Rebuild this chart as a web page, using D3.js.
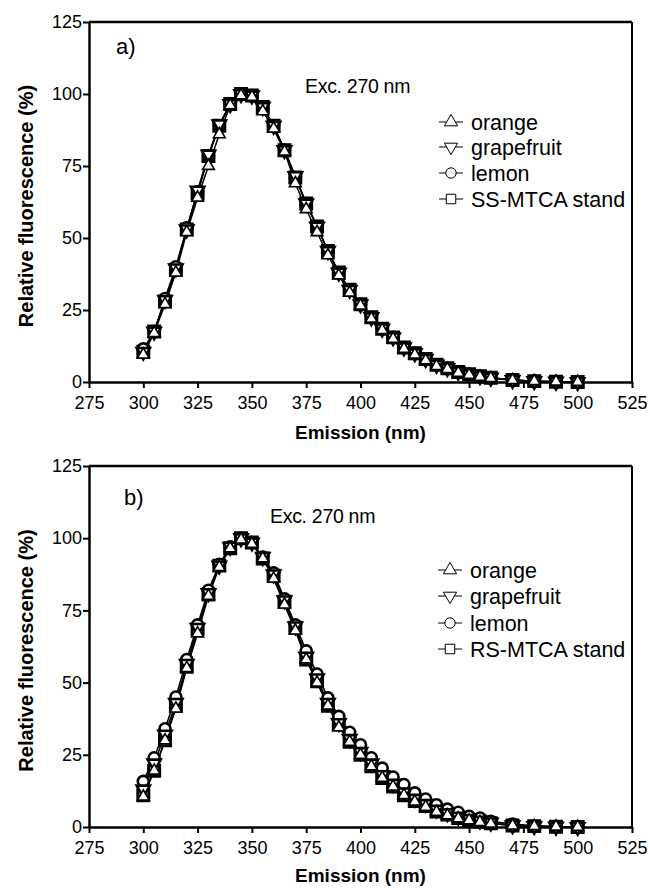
<!DOCTYPE html>
<html><head><meta charset="utf-8">
<script src="https://cdn.jsdelivr.net/npm/d3@7"></script>
<style>body{margin:0;background:#fff}svg{display:block}text{font-family:"Liberation Sans",Arial,sans-serif;fill:#000}</style>
</head><body>
<script>
const emission = [300,305,310,315,320,325,330,335,340,345,350,355,360,365,370,375,380,385,390,395,400,405,410,415,420,425,430,435,440,445,450,455,460,470,480,490,500];
const xTicks = [275,300,325,350,375,400,425,450,475,500,525];
const yTicks = [0,25,50,75,100,125];

const aOrange = [9.5,17,27,38,52,64,75,86,96,99.5,99,94,88,80,69,60,52,44,37,31,26.5,22,18,15,11.5,9.5,7.5,5.5,4.5,3.2,2.5,1.8,1.3,0.6,0.3,0.1,0];
const aGrapefruit = [10.5,17.5,28.5,39.5,53,66.5,79,89.5,96.5,100,99.5,95.5,89,80.5,71.5,62,54,45.5,38,32,27,22.5,18.5,15.5,12,10,8,6,4.8,3.5,2.7,2,1.5,0.7,0.3,0.1,0];
const aLemon = [11.5,17.5,29,40,53.5,66,78.5,89,96.5,100,99.5,95,89,80.5,71,62,54,45.5,38,32,27,22.5,18.5,15.5,12,10,8,6,4.8,3.5,2.7,2,1.5,0.7,0.3,0.1,0];
const aStandard = [10.5,17.5,28,39,53,65.5,78.5,89,96.5,100,99.5,95.5,89,80.5,71,62,54,45.5,38,32,27,22.5,18.5,15.5,12,10,8,6,4.8,3.5,2.7,2,1.5,0.7,0.3,0.1,0];

const bOrange = [10.5,19.5,30,41,55,67,80,90,96.5,99.5,98,93,86,77,68,58,50,42,34.5,29.5,25,21,17,14,11,8.8,7,5.2,4,3,2.3,1.7,1.2,0.5,0.3,0.1,0];
const bGrapefruit = [13,22,32,43,56.5,69,81,90.5,97,100,98.5,93.5,87.5,78.5,69.5,59,51.5,43,36,30.5,26,22,18,15,12,9.8,8,6,4.8,3.6,2.8,2.2,1.5,0.6,0.3,0.1,0];
const bLemon = [15.8,24,34,45,58,70,82,91,97,100,98.5,93.5,88,79,70,61,53,44.7,38.3,32.8,28.5,24,20.4,17.3,14.7,11.8,9.7,7.7,6.2,5.1,3.7,3.1,2,1,0.4,0.1,0];
const bStandard = [11,19.5,30,42,55.5,68.5,80.5,90.5,96.5,100,98.5,93,87,78,69,58,50.5,42,35.5,29.5,25,21,17,14,11,9,7.3,5.4,4.3,3.1,2.4,1.9,1.3,0.5,0.3,0.1,0];

const W = 650, H = 888;
const svg = d3.select("body").append("svg").attr("width", W).attr("height", H);

const symTypes = {
  orange: {type: d3.symbolTriangle, size: 60, rot: 0, sw: 1.6},
  grapefruit: {type: d3.symbolTriangle, size: 75, rot: 180, sw: 2.6},
  lemon: {type: d3.symbolCircle, size: 95, rot: 0, sw: 2.6},
  standard: {type: d3.symbolSquare, size: 120, rot: 0, sw: 3}
};

function drawPanel(cfg) {
  const x = d3.scaleLinear().domain([275, 525]).range([89, 632]);
  const y = d3.scaleLinear().domain([0, 125]).range([cfg.bottom, cfg.top]);
  const g = svg.append("g");

  g.append("line").attr("x1", x(275)).attr("x2", x(525)).attr("y1", y(125)).attr("y2", y(125))
    .attr("stroke", "#000").attr("stroke-width", 2.5);
  g.append("line").attr("x1", x(525)).attr("x2", x(525)).attr("y1", y(125)).attr("y2", y(0))
    .attr("stroke", "#000").attr("stroke-width", 2);

  const xAxis = g.append("g").attr("transform", `translate(0,${y(0)})`)
    .call(d3.axisBottom(x).tickValues(xTicks).tickSize(6).tickPadding(8).tickSizeOuter(0));
  const yAxis = g.append("g").attr("transform", `translate(${x(275)},0)`)
    .call(d3.axisLeft(y).tickValues(yTicks).tickSize(6).tickPadding(1).tickSizeOuter(0));
  [xAxis, yAxis].forEach(a => {
    a.select(".domain").attr("stroke", "#000").attr("stroke-width", 2.5);
    a.selectAll(".tick line").attr("stroke", "#000").attr("stroke-width", 2);
    a.selectAll(".tick text").attr("font-size", 18).attr("font-family", "Liberation Sans, Arial, sans-serif").attr("fill", "#000");
  });

  g.append("text").attr("x", (x(275) + x(525)) / 2).attr("y", cfg.xTitleY)
    .attr("text-anchor", "middle").attr("font-size", 19).attr("font-weight", "bold").text("Emission (nm)");
  g.append("text").attr("transform", `translate(33,${(y(0) + y(125)) / 2 + 4}) rotate(-90)`)
    .attr("text-anchor", "middle").attr("font-size", 20).attr("font-weight", "bold").text("Relative fluorescence (%)");

  g.append("text").attr("x", cfg.labelX).attr("y", cfg.labelY).attr("font-size", 22).text(cfg.label);
  g.append("text").attr("x", cfg.excX).attr("y", cfg.excY).attr("font-size", 19.5).attr("letter-spacing", -0.3).text("Exc. 270 nm");

  const line = d3.line().x((d, i) => x(emission[i])).y(d => y(d));
  const order = ["standard", "lemon", "grapefruit", "orange"];
  order.forEach(k => {
    g.append("path").datum(cfg.data[k]).attr("d", line).attr("fill", "none").attr("stroke", "#000").attr("stroke-width", 1.5);
  });
  order.forEach(k => {
    const s = symTypes[k];
    g.append("g").selectAll("path").data(cfg.data[k]).join("path")
      .attr("d", d3.symbol().type(s.type).size(s.size))
      .attr("transform", (d, i) => `translate(${x(emission[i])},${y(d)}) rotate(${s.rot})`)
      .attr("fill", "#fff").attr("stroke", "#000").attr("stroke-width", s.sw);
  });

  const legNames = ["orange", "grapefruit", "lemon", cfg.standardName];
  const legKeys = ["orange", "grapefruit", "lemon", "standard"];
  const legSizes = {orange: 75, grapefruit: 75, lemon: 85, standard: 90};
  legKeys.forEach((k, i) => {
    const ly = cfg.legendY[i];
    const lg = g.append("g");
    lg.append("line").attr("x1", cfg.legendX - 12).attr("x2", cfg.legendX + 12).attr("y1", ly).attr("y2", ly)
      .attr("stroke", "#000").attr("stroke-width", 1);
    const s = symTypes[k];
    lg.append("path").attr("d", d3.symbol().type(s.type).size(legSizes[k]))
      .attr("transform", `translate(${cfg.legendX},${ly}) rotate(${s.rot})`)
      .attr("fill", "#fff").attr("stroke", "#000").attr("stroke-width", 1);
    lg.append("text").attr("x", cfg.legendX + 20).attr("y", ly + 7.5).attr("font-size", 21.5).text(legNames[i]);
  });
}

drawPanel({
  top: 22, bottom: 382, xTitleY: 439, label: "a)", labelX: 116, labelY: 54,
  excX: 305, excY: 93, legendX: 451, legendY: [122, 147, 173, 199],
  standardName: "SS-MTCA stand",
  data: {orange: aOrange, grapefruit: aGrapefruit, lemon: aLemon, standard: aStandard}
});
drawPanel({
  top: 466, bottom: 827, xTitleY: 882, label: "b)", labelX: 124, labelY: 505,
  excX: 270, excY: 523, legendX: 450, legendY: [570, 596, 623, 649],
  standardName: "RS-MTCA stand",
  data: {orange: bOrange, grapefruit: bGrapefruit, lemon: bLemon, standard: bStandard}
});
</script>
</body></html>
